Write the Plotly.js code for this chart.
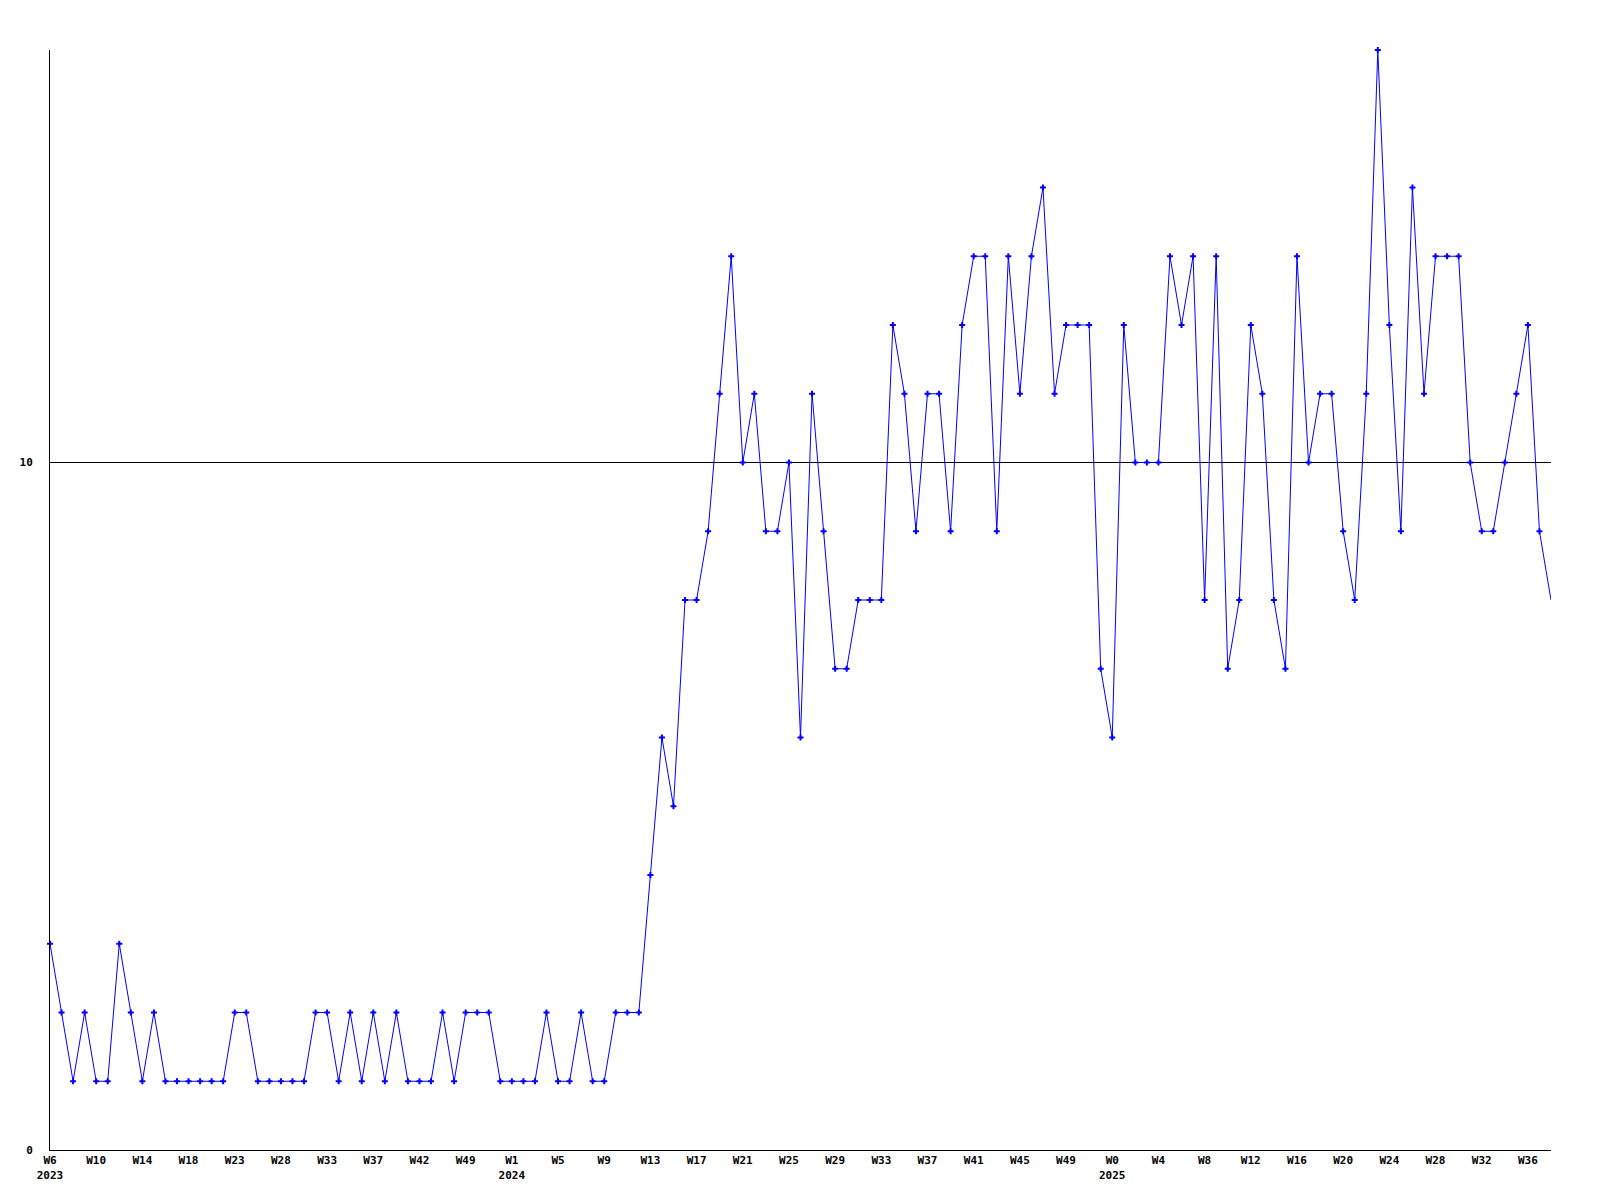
<!DOCTYPE html>
<html>
<head>
<meta charset="utf-8">
<script src="https://cdn.plot.ly/plotly-3.0.1.min.js"></script>
<style>html,body{margin:0;padding:0;background:#fff;}#chart{width:1600px;height:1200px;}</style>
</head>
<body>
<div id="chart"></div>
<script>
const values = [3,2,1,2,1,1,3,2,1,2,1,1,1,1,1,1,2,2,1,1,1,1,1,2,2,1,2,1,2,1,2,1,1,1,2,1,2,2,2,1,1,1,1,2,1,1,2,1,1,2,2,2,4,6,5,8,8,9,11,13,10,11,9,9,10,6,11,9,7,7,8,8,8,12,11,9,11,11,9,12,13,13,9,13,11,13,14,11,12,12,12,7,6,12,10,10,10,13,12,13,8,13,7,8,12,11,8,7,13,10,11,11,9,8,11,16,12,9,14,11,13,13,13,10,9,9,10,11,12,9,8];
const tickIndex = [0,4,8,12,16,20,24,28,32,36,40,44,48,52,56,60,64,68,72,76,80,84,88,92,96,100,104,108,112,116,120,124,128];
const tickLabels = ["W6<br>2023","W10","W14","W18","W23","W28","W33","W37","W42","W49","W1<br>2024","W5","W9","W13","W17","W21","W25","W29","W33","W37","W41","W45","W49","W0<br>2025","W4","W8","W12","W16","W20","W24","W28","W32","W36"];
const yTicks = [0,10];

const x = values.map((v,i)=>i);
const font = {family:"DejaVu Sans Mono", size:11, color:"#000", weight:"bold"};
Plotly.newPlot("chart",[{
  x:x, y:values, type:"scatter", mode:"lines", cliponaxis:true,
  line:{color:"#0000ff", width:1},
  hoverinfo:"none"
},{
  x:x.slice(0,-1), y:values.slice(0,-1), type:"scatter", mode:"markers", cliponaxis:false,
  marker:{symbol:"cross", size:5, color:"#0000ff", line:{width:0}},
  hoverinfo:"none"
}],{
  width:1600, height:1200,
  margin:{l:50, r:49, t:50, b:50},
  paper_bgcolor:"#fff", plot_bgcolor:"#fff",
  showlegend:false,
  font:font,
  xaxis:{range:[0,130], tickvals:tickIndex, ticktext:tickLabels, showgrid:false, zeroline:false,
    showline:true, linecolor:"#000", linewidth:1, ticks:"", tickfont:font, tickangle:0},
  yaxis:{range:[0,16], tickvals:yTicks, ticktext:["0","10"], showgrid:true, gridcolor:"#000", gridwidth:1,
    zeroline:false, showline:true, linecolor:"#000", linewidth:1, ticks:"", tickfont:font, ticklabelstandoff:14}
},{staticPlot:true});
</script>
</body>
</html>
